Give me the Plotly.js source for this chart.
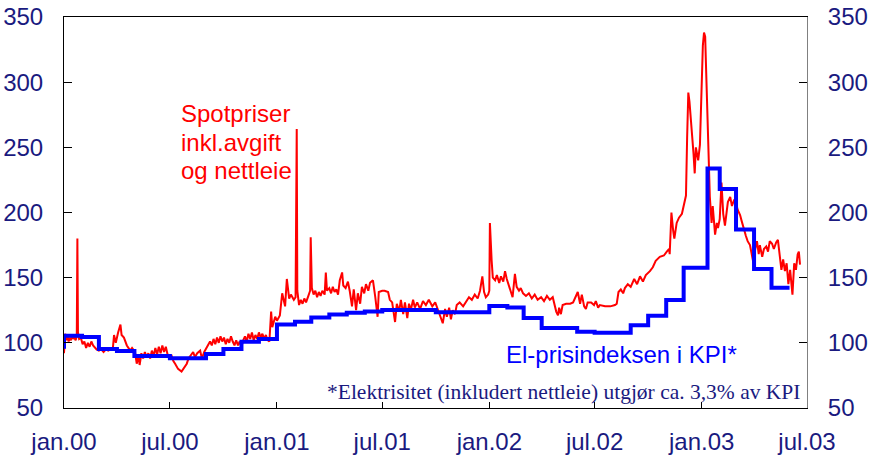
<!DOCTYPE html>
<html>
<head>
<meta charset="utf-8">
<script src="https://cdn.plot.ly/plotly-3.0.1.min.js"></script>
<style>
body{margin:0;background:#fff;}
#chart{width:870px;height:460px;}
</style>
</head>
<body>
<div id="chart"></div>
<script>
// ================= DATA =================
// spot price incl. tax and grid rent
const spotDates = [
'2000-01-01','2000-01-03','2000-01-05','2000-01-07','2000-01-09','2000-01-11','2000-01-13','2000-01-15','2000-01-17','2000-01-19','2000-01-21','2000-01-23','2000-01-24','2000-01-25','2000-01-27','2000-01-30',
'2000-02-02','2000-02-05','2000-02-08','2000-02-11','2000-02-14','2000-02-17','2000-02-20','2000-02-26',
'2000-03-01','2000-03-05','2000-03-09','2000-03-13','2000-03-17','2000-03-21','2000-03-25','2000-03-27','2000-03-30',
'2000-04-03','2000-04-07','2000-04-09','2000-04-13','2000-04-18','2000-04-21','2000-04-24','2000-04-27',
'2000-05-02','2000-05-05','2000-05-08','2000-05-10','2000-05-13','2000-05-16','2000-05-19','2000-05-22','2000-05-25','2000-05-28','2000-05-31',
'2000-06-03','2000-06-06','2000-06-09','2000-06-12','2000-06-15','2000-06-18','2000-06-21','2000-06-24','2000-06-27',
'2000-07-01','2000-07-04','2000-07-07','2000-07-10','2000-07-15','2000-07-21','2000-07-24','2000-07-27','2000-07-30',
'2000-08-02','2000-08-06','2000-08-10','2000-08-13','2000-08-17','2000-08-22','2000-08-25','2000-08-29',
'2000-09-03','2000-09-08','2000-09-11','2000-09-14','2000-09-17','2000-09-20','2000-09-23','2000-09-26','2000-09-29',
'2000-10-02','2000-10-05','2000-10-08','2000-10-11','2000-10-14','2000-10-17','2000-10-20','2000-10-23','2000-10-26','2000-10-29',
'2000-11-01','2000-11-04','2000-11-07','2000-11-10','2000-11-13','2000-11-16','2000-11-19','2000-11-22','2000-11-25','2000-11-28',
'2000-12-01','2000-12-04','2000-12-07','2000-12-10','2000-12-13','2000-12-16','2000-12-19','2000-12-22','2000-12-24','2000-12-29',
'2001-01-01','2001-01-06','2001-01-10','2001-01-15','2001-01-18','2001-01-22','2001-01-25','2001-01-30',
'2001-02-02','2001-02-03','2001-02-04','2001-02-05','2001-02-08','2001-02-11','2001-02-14','2001-02-17','2001-02-20','2001-02-24','2001-02-27','2001-02-28',
'2001-03-02','2001-03-05','2001-03-08','2001-03-11','2001-03-14','2001-03-17','2001-03-20','2001-03-24','2001-03-26','2001-03-28',
'2001-04-01','2001-04-04','2001-04-07','2001-04-10','2001-04-13','2001-04-16','2001-04-19','2001-04-23','2001-04-25','2001-04-29',
'2001-05-03','2001-05-06','2001-05-10','2001-05-13','2001-05-17','2001-05-20','2001-05-24','2001-05-27','2001-05-31',
'2001-06-03','2001-06-07','2001-06-10','2001-06-15','2001-06-19','2001-06-23','2001-06-25',
'2001-07-01','2001-07-05','2001-07-11','2001-07-14','2001-07-18','2001-07-23','2001-07-26','2001-07-30',
'2001-08-02','2001-08-06','2001-08-09','2001-08-13','2001-08-16','2001-08-19','2001-08-23','2001-08-26','2001-08-30',
'2001-09-04','2001-09-09','2001-09-14','2001-09-19','2001-09-25','2001-09-30',
'2001-10-05','2001-10-08','2001-10-13','2001-10-17','2001-10-20','2001-10-24','2001-10-27','2001-10-30',
'2001-11-03','2001-11-06','2001-11-11','2001-11-17','2001-11-22','2001-11-27',
'2001-12-02','2001-12-07','2001-12-12','2001-12-16','2001-12-20','2001-12-23','2001-12-26','2001-12-30',
'2002-01-01','2002-01-02','2002-01-05','2002-01-07','2002-01-11','2002-01-14','2002-01-18','2002-01-21','2002-01-25','2002-01-28','2002-01-31',
'2002-02-04','2002-02-07','2002-02-10','2002-02-14','2002-02-17','2002-02-21','2002-02-24','2002-02-28',
'2002-03-05','2002-03-10','2002-03-15','2002-03-20','2002-03-25','2002-03-31',
'2002-04-05','2002-04-10','2002-04-15','2002-04-20','2002-04-23','2002-04-26','2002-04-29',
'2002-05-01','2002-05-04','2002-05-07','2002-05-13','2002-05-20','2002-05-25','2002-05-28',
'2002-06-02','2002-06-06','2002-06-09','2002-06-13','2002-06-16','2002-06-19','2002-06-25','2002-06-30',
'2002-07-03','2002-07-07','2002-07-10','2002-07-19','2002-07-28',
'2002-08-05','2002-08-08','2002-08-11','2002-08-15','2002-08-19','2002-08-22','2002-08-27',
'2002-09-01','2002-09-07','2002-09-12','2002-09-17','2002-09-22','2002-09-27',
'2002-10-04','2002-10-09','2002-10-14','2002-10-21','2002-10-28',
'2002-11-02','2002-11-06','2002-11-07','2002-11-10','2002-11-13','2002-11-15','2002-11-19','2002-11-23','2002-11-28',
'2002-12-02','2002-12-05','2002-12-07','2002-12-09','2002-12-11','2002-12-13','2002-12-15','2002-12-18','2002-12-20','2002-12-22','2002-12-26','2002-12-29',
'2003-01-01','2003-01-03','2003-01-05','2003-01-07','2003-01-08','2003-01-11','2003-01-14','2003-01-15','2003-01-18','2003-01-20','2003-01-24','2003-01-27','2003-01-29',
'2003-02-01','2003-02-04','2003-02-07','2003-02-10','2003-02-13','2003-02-15','2003-02-19','2003-02-22','2003-02-26',
'2003-03-01','2003-03-04','2003-03-08','2003-03-11','2003-03-15','2003-03-18','2003-03-21','2003-03-25','2003-03-28','2003-03-31',
'2003-04-03','2003-04-06','2003-04-09','2003-04-11','2003-04-15','2003-04-18','2003-04-22','2003-04-25','2003-04-28',
'2003-05-02','2003-05-05','2003-05-09','2003-05-12','2003-05-16','2003-05-18','2003-05-21','2003-05-24','2003-05-27','2003-05-30',
'2003-06-02','2003-06-04','2003-06-06','2003-06-09','2003-06-12','2003-06-15','2003-06-17','2003-06-19'
];
const spotValues = [
92,107,102,105,101,104,102,106,103,104,102,105,180,108,103,104,
99,101,96,100,97,101,98,95,
94,95,93,95,94,95,96,106,100,
108,114,106,104,98,96,94,96,
93,84,90,83,92,88,93,89,92,88,94,
90,96,91,97,92,98,93,97,91,
89,90,86,84,80,78,80,82,84,
88,91,93,89,92,94,88,93,
97,101,98,103,99,104,100,105,101,
104,99,103,100,105,101,98,102,98,101,
97,102,105,101,107,103,108,102,106,103,
108,104,107,103,106,102,101,124,112,120,
117,121,138,128,149,134,137,133,
135,200,264,140,129,133,130,134,131,136,140,181,
142,137,140,135,139,136,140,137,154,140,
142,138,143,139,141,137,148,154,144,142,
147,140,128,141,125,138,130,143,138,
145,140,146,148,135,120,139,
140,140,139,133,131,116,130,124,
133,122,131,119,130,125,133,127,131,
126,132,129,133,128,131,
125,121,115,126,120,127,118,125,
122,129,131,128,132,135,
133,137,134,140,151,139,135,137,
140,192,163,150,148,152,146,151,147,155,149,
143,140,135,153,143,140,142,138,
136,138,134,137,133,135,
132,136,133,135,128,124,121,
127,122,129,130,130,131,134,
139,130,137,128,126,131,131,129,
132,127,129,128,128,
129,130,139,141,138,142,145,
143,149,145,151,147,152,
155,158,163,166,167,
170,172,168,200,186,180,192,196,199,
206,213,258,292,285,270,262,245,230,250,240,252,
309,328,338,335,319,271,232,212,192,205,183,192,188,
195,223,199,190,199,208,212,205,210,
207,202,198,193,186,182,178,175,168,161,
172,178,168,175,166,172,174,170,178,
176,172,177,179,166,156,164,155,161,145,
156,148,137,161,156,168,170,160
];

// electricity price index in CPI, monthly steps
const kpiDates = [
'1999-12-01',
'2000-01-01','2000-02-01','2000-03-01','2000-04-01','2000-05-01','2000-06-01','2000-07-01','2000-08-01','2000-09-01','2000-10-01','2000-11-01','2000-12-01',
'2001-01-01','2001-02-01','2001-03-01','2001-04-01','2001-05-01','2001-06-01','2001-07-01','2001-08-01','2001-09-01','2001-10-01','2001-11-01','2001-12-01',
'2002-01-01','2002-02-01','2002-03-01','2002-04-01','2002-05-01','2002-06-01','2002-07-01','2002-08-01','2002-09-01','2002-10-01','2002-11-01','2002-12-01',
'2003-01-11','2003-02-01','2003-03-01','2003-04-01','2003-05-01','2003-06-01'
];
const kpiValues = [
97,
105.5,104.5,95.2,93.7,89.9,89.9,88.1,88.1,91.4,95.2,100.9,102.9,
114,116.2,119.5,121.8,123,124,125.2,125.2,125.2,123.4,123.4,123.4,
128.2,127.2,119,111.3,111.3,108.5,107.8,107.8,113.5,120.8,132.8,157.6,
233.8,218,187,156.6,142.3,142.3
];

const tickDates = ['2000-01-01','2000-07-01','2001-01-01','2001-07-01','2002-01-01','2002-07-01','2003-01-01','2003-07-01'];
const tickLabels = ['jan.00','jul.00','jan.01','jul.01','jan.02','jul.02','jan.03','jul.03'];

// ================= CHART =================
const navy = '#1a1a80';
const sans = 'Liberation Sans, Arial, sans-serif';

let traces = [
{x: spotDates, y: spotValues, type:'scatter', mode:'lines', line:{color:'#ff0000', width:2}, yaxis:'y', hoverinfo:'skip'},
{x: kpiDates, y: kpiValues, type:'scatter', mode:'lines', line:{color:'#0000ff', width:4, shape:'hv'}, yaxis:'y2', hoverinfo:'skip'}
];

let yCommon = {
range:[50,350], tick0:50, dtick:50,
ticks:'inside', ticklen:8, tickcolor:'#000',
showgrid:false, zeroline:false, showline:true,
tickfont:{family:sans, size:24, color:navy},
ticklabelstandoff:15, fixedrange:true
};

let layout = {
width:870, height:460,
margin:{l:64, r:63, t:17, b:52},
paper_bgcolor:'#fff', plot_bgcolor:'#fff',
showlegend:false,
font:{family:sans, size:24, color:navy},
xaxis:{
type:'date', range:['2000-01-01','2003-07-01'],
tickvals:tickDates, ticktext:tickLabels,
ticks:'inside', ticklen:6, tickcolor:'#000',
showline:true, linecolor:'#000', linewidth:1, mirror:true,
showgrid:false, zeroline:false,
tickfont:{family:sans, size:24, color:navy},
ticklabelstandoff:12, fixedrange:true
},
yaxis:Object.assign({}, yCommon, {side:'left', linecolor:'#000'}),
yaxis2:Object.assign({}, yCommon, {side:'right', overlaying:'y', linecolor:'#808080'}),
annotations:[
{xref:'paper', yref:'paper', x:0.1548, y:0.7522, xanchor:'left', yanchor:'middle', showarrow:false, text:'Spotpriser', font:{family:sans, size:24, color:'#ff0000'}},
{xref:'paper', yref:'paper', x:0.1548, y:0.6798, xanchor:'left', yanchor:'middle', showarrow:false, text:'inkl.avgift', font:{family:sans, size:24, color:'#ff0000'}},
{xref:'paper', yref:'paper', x:0.1548, y:0.6074, xanchor:'left', yanchor:'middle', showarrow:false, text:'og nettleie', font:{family:sans, size:24, color:'#ff0000'}},
{xref:'paper', yref:'paper', x:0.7506, y:0.1381, xanchor:'center', yanchor:'middle', showarrow:false, text:'El-prisindeksen i KPI*', font:{family:sans, size:24, color:'#0000ff'}},
{xref:'paper', yref:'paper', x:0.3513, y:0.0404, xanchor:'left', yanchor:'middle', showarrow:false, text:'*Elektrisitet (inkludert nettleie) utgjør ca. 3,3% av KPI', font:{family:'Liberation Serif, Times New Roman, serif', size:21.5, color:navy}}
]
};

Plotly.newPlot('chart', traces, layout, {displayModeBar:false, staticPlot:true});
</script>
</body>
</html>
